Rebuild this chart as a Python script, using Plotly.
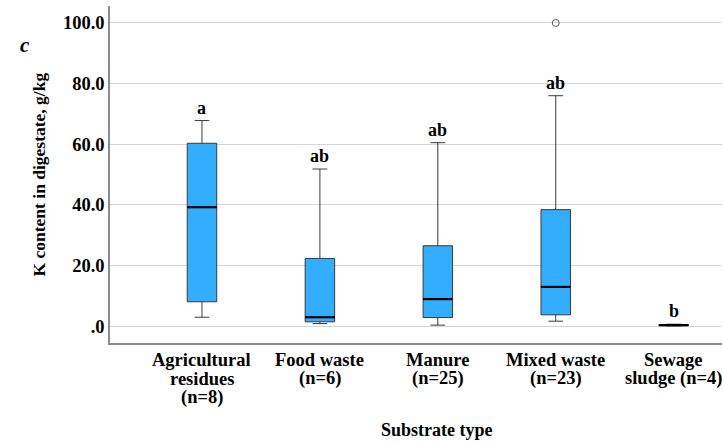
import plotly.graph_objects as go

# Substrate groups (x-axis tick labels, one entry per line)
categories = [
    ["Agricultural", "residues", "(n=8)"],
    ["Food waste", "(n=6)"],
    ["Manure", "(n=25)"],
    ["Mixed waste", "(n=23)"],
    ["Sewage", "sludge (n=4)"],
]

# Box-plot statistics of K content in digestate, g/kg
lower_whisker = [2.9, 0.8, 0.3, 1.6, 0.05]
q1 = [8.0, 1.4, 2.8, 3.7, 0.1]
median = [39.2, 2.9, 8.9, 12.9, 0.3]
q3 = [60.3, 22.3, 26.5, 38.4, 0.5]
upper_whisker = [67.8, 51.8, 60.5, 76.0, 0.6]

# Outlying observations (group index, value)
outlier_group = [3]
outlier_value = [100.0]

# Significance letters
letters = ["a", "ab", "ab", "ab", "b"]

# Y-axis ticks
y_tick_values = [0, 20, 40, 60, 80, 100]
y_tick_labels = [".0", "20.0", "40.0", "60.0", "80.0", "100.0"]

positions = list(range(len(categories)))
box_width = 0.25
serif = "Liberation Serif"

fig = go.Figure()

fig.add_trace(go.Box(
    x=positions,
    q1=q1,
    median=median,
    q3=q3,
    lowerfence=lower_whisker,
    upperfence=upper_whisker,
    width=box_width,
    whiskerwidth=0.5,
    fillcolor="#33adff",
    line=dict(color="#3a3a3a", width=1),
    boxpoints=False,
    showlegend=False,
    hoverinfo="skip",
))

# Thick median lines
mx, my = [], []
for p, m in zip(positions, median):
    mx += [p - box_width / 2, p + box_width / 2, None]
    my += [m, m, None]
fig.add_trace(go.Scatter(
    x=mx, y=my, mode="lines",
    line=dict(color="black", width=2.2),
    showlegend=False, hoverinfo="skip",
))

# Outliers
fig.add_trace(go.Scatter(
    x=outlier_group, y=outlier_value, mode="markers",
    marker=dict(symbol="circle-open", size=7, color="#555555", line=dict(width=1)),
    showlegend=False, hoverinfo="skip",
))

# Letters above whiskers
for p, u, t in zip(positions, upper_whisker, letters):
    fig.add_annotation(
        x=p, y=u, text=f"<b>{t}</b>", showarrow=False,
        xref="x", yref="y", yanchor="middle", yshift=13,
        font=dict(family=serif, size=18, color="black"),
    )

# Category labels under the x axis, with tight line spacing
for p, lines in zip(positions, categories):
    for k, line in enumerate(lines):
        fig.add_annotation(
            x=p, y=0, xref="x", yref="paper", text=f"<b>{line}</b>",
            showarrow=False, xanchor="center", yanchor="middle",
            yshift=-(17 + 18.5 * k),
            font=dict(family=serif, size=18.5, color="black"),
        )

# Panel label (pixel position converted to paper units)
fig.add_annotation(
    x=(18 - 110) / 612, y=(343 - 31) / 337, xref="paper", yref="paper",
    text="<b><i>c</i></b>",
    showarrow=False, font=dict(family=serif, size=21, color="black"),
)

# Axis titles
fig.add_annotation(
    x=-72 / 612, y=0.5, xref="paper", yref="paper",
    text="<b>K content in digestate, g/kg</b>", textangle=-90,
    showarrow=False, xanchor="center", yanchor="middle",
    font=dict(family=serif, size=17.5, color="black"),
)
fig.add_annotation(
    x=(437 - 110) / 612, y=-87 / 337, xref="paper", yref="paper",
    text="<b>Substrate type</b>",
    showarrow=False, xanchor="center", yanchor="middle",
    font=dict(family=serif, size=18, color="black"),
)

fig.update_layout(
    width=723, height=443,
    margin=dict(l=110, r=1, t=6, b=100),
    paper_bgcolor="white", plot_bgcolor="white",
    font=dict(family=serif, size=18, color="black"),
    xaxis=dict(
        range=[-0.78, 4.41],
        showticklabels=False,
        showgrid=False, zeroline=False,
        showline=True, linecolor="#8c8c8c", linewidth=1.5,
        ticks="",
        fixedrange=True,
    ),
    yaxis=dict(
        range=[-5.6, 105.6],
        tickvals=y_tick_values, ticktext=[f"<b>{t}</b>" for t in y_tick_labels],
        showgrid=True, gridcolor="#d4d4d4", gridwidth=1.2,
        zeroline=False,
        showline=True, linecolor="#8c8c8c", linewidth=1.5,
        ticks="", tickfont=dict(family=serif, size=18.5, color="black"),
        fixedrange=True,
    ),
)

fig.write_html("out.html")
